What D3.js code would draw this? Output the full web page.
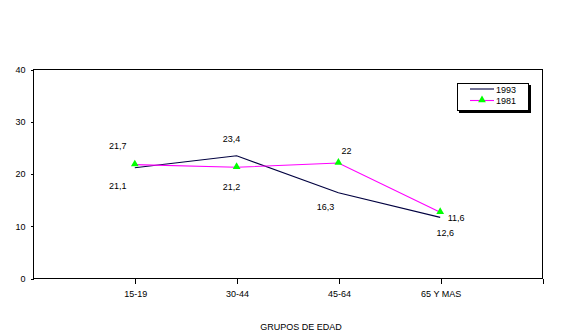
<!DOCTYPE html>
<html><head><meta charset="utf-8">
<script src="https://cdn.jsdelivr.net/npm/d3@7"></script>
<style>
html,body{margin:0;padding:0;background:#fff;}
svg{display:block;}
text{font-family:"Liberation Sans",Arial,sans-serif;font-size:9px;fill:#000;}
</style></head>
<body>
<script>
// ---- data ----
const categories = ["15-19", "30-44", "45-64", "65 Y MAS"];
const series1993 = [21.1, 23.4, 16.3, 11.6];
const series1981 = [21.7, 21.2, 22, 12.6];
const labels1993 = ["21,1", "23,4", "16,3", "12,6"];
const labels1981 = ["21,7", "21,2", "22", "11,6"];
const yTicks = [0, 10, 20, 30, 40];
const xTitle = "GRUPOS DE EDAD";

// ---- layout ----
const W = 583, H = 335;
const L = 33, R = 542, T = 69, B = 278;
const svg = d3.select("body").append("svg").attr("width", W).attr("height", H);

const x = d3.scaleLinear().domain([0, categories.length + 1]).range([L, R]);
const y = d3.scaleLinear().domain([0, 40]).range([B, T]);

// frame
svg.append("rect").attr("x", L + 0.5).attr("y", T + 0.5)
  .attr("width", R - L).attr("height", B - T)
  .attr("fill", "none").attr("stroke", "#000").attr("stroke-width", 1)
  .attr("shape-rendering", "crispEdges");

// y axis
const yAxis = d3.axisLeft(y).tickValues(yTicks).tickSize(3).tickPadding(5).tickFormat(d3.format("d"));
const gy = svg.append("g").attr("transform", `translate(${L + 0.5},0.5)`).call(yAxis);
gy.select(".domain").remove();
gy.selectAll("line").attr("shape-rendering", "crispEdges");
gy.selectAll("text").attr("dy", "0.32em").style("font-size", "9px").style("font-family", '"Liberation Sans",Arial,sans-serif');

// x axis
const xTickVals = d3.range(1, categories.length + 2);
const xAxis = d3.axisBottom(x).tickValues(xTickVals).tickSize(5).tickPadding(7)
  .tickFormat(d => categories[d - 1] || "");
const gx = svg.append("g").attr("transform", `translate(0.5,${B + 0.5})`).call(xAxis);
gx.select(".domain").remove();
gx.selectAll("line").attr("shape-rendering", "crispEdges");
gx.selectAll("text").style("font-size", "9px").style("font-family", '"Liberation Sans",Arial,sans-serif');

svg.append("text").attr("x", 301).attr("y", 330).attr("text-anchor", "middle").text(xTitle);

// lines
const line = d3.line().x((d, i) => x(i + 1)).y(d => y(d));
svg.append("path").datum(series1993).attr("d", line)
  .attr("fill", "none").attr("stroke", "#000040").attr("stroke-width", 1.1);
svg.append("path").datum(series1981).attr("d", line)
  .attr("fill", "none").attr("stroke", "#ff00ff").attr("stroke-width", 1.1);

// triangles
const tri = d3.symbol().type(d3.symbolTriangle).size(26);
svg.selectAll(".m81").data(series1981).enter().append("path")
  .attr("transform", (d, i) => `translate(${x(i + 1)},${y(d) - 0.5})`)
  .attr("d", tri).attr("fill", "#00ff00");

// data labels (placement offsets relative to each point)
const off1993 = [[-17, 21], [-5, -14], [-13, 17], [5, 19]];
const off1981 = [[-17, -15.5], [-5, 23], [8, -9], [16, 9]];
function addLabels(vals, labs, offs) {
  svg.append("g").selectAll("text").data(vals).enter().append("text")
    .attr("x", (d, i) => x(i + 1) + offs[i][0])
    .attr("y", (d, i) => y(d) + offs[i][1])
    .attr("text-anchor", "middle")
    .text((d, i) => labs[i]);
}
addLabels(series1993, labels1993, off1993);
addLabels(series1981, labels1981, off1981);

// legend
const lg = svg.append("g");
lg.append("rect").attr("x", 459).attr("y", 85).attr("width", 72).attr("height", 28).attr("fill", "#000");
lg.append("rect").attr("x", 457.5).attr("y", 83.5).attr("width", 71).attr("height", 27)
  .attr("fill", "#fff").attr("stroke", "#000").attr("stroke-width", 1).attr("shape-rendering", "crispEdges");
const legendItems = [
  { name: "1993", color: "#000040", marker: false, y: 89 },
  { name: "1981", color: "#ff00ff", marker: true, y: 100.5 }
];
legendItems.forEach(it => {
  lg.append("line").attr("x1", 470).attr("x2", 494).attr("y1", it.y).attr("y2", it.y)
    .attr("stroke", it.color).attr("stroke-width", 1.1);
  if (it.marker) lg.append("path").attr("transform", `translate(482,${it.y - 0.5})`).attr("d", tri).attr("fill", "#00ff00");
  lg.append("text").attr("x", 496).attr("y", it.y + 3.5).text(it.name);
});
</script>
</body></html>
